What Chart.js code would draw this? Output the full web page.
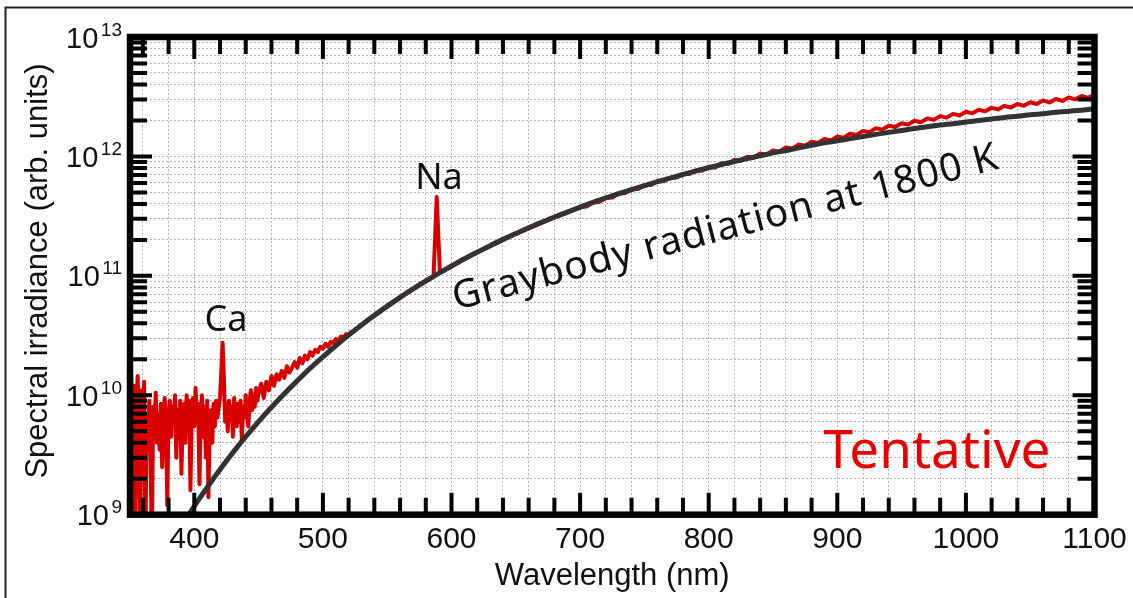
<!DOCTYPE html>
<html><head><meta charset="utf-8">
<script src="https://cdn.jsdelivr.net/npm/chart.js@4.4.1/dist/chart.umd.min.js"></script>
<style>html,body{margin:0;padding:0;background:#fff;overflow:hidden}#wrap{width:1133px;height:598px;position:relative}canvas{display:block}</style>
</head><body><div id="wrap"><canvas id="c" width="1133" height="598"></canvas></div>
<script>
// ---- data ----
const graybodyWavelength = [390,400,410,420,430,440,450,460,470,480,490,500,510,520,530,540,550,560,570,580,590,600,610,620,630,640,650,660,670,680,690,700,710,720,730,740,750,760,770,780,790,800,810,820,830,840,850,860,870,880,890,900,910,920,930,940,950,960,970,980,990,1000,1010,1020,1030,1040,1050,1060,1070,1080,1090,1100];
const graybodyIrradiance = [8.00e8,1.18e9,1.69e9,2.39e9,3.31e9,4.50e9,6.02e9,7.93e9,1.03e10,1.32e10,1.68e10,2.10e10,2.60e10,3.19e10,3.88e10,4.67e10,5.58e10,6.61e10,7.77e10,9.07e10,1.05e11,1.21e11,1.39e11,1.58e11,1.79e11,2.02e11,2.26e11,2.53e11,2.81e11,3.11e11,3.42e11,3.76e11,4.12e11,4.49e11,4.88e11,5.28e11,5.70e11,6.14e11,6.59e11,7.06e11,7.55e11,8.04e11,8.55e11,9.07e11,9.60e11,1.01e12,1.07e12,1.12e12,1.18e12,1.24e12,1.30e12,1.35e12,1.41e12,1.47e12,1.53e12,1.59e12,1.65e12,1.71e12,1.77e12,1.83e12,1.88e12,1.94e12,2.00e12,2.06e12,2.12e12,2.17e12,2.23e12,2.28e12,2.34e12,2.39e12,2.44e12,2.50e12];

const measuredWavelength = [350,351,352,353,354,355,356,357,358,359,360,361,362,363,364,365,366,367,368,369,370,371,372,373,374,375,376,377,378,379,380,381,382,383,384,385,386,387,388,389,390,391,392,393,394,395,396,397,398,399,400,401,402,403,404,405,406,407,408,409,410,411,412,413,414,415,416,417,418,419,420,421,422,423,424,425,426,427,428,429,430,431,432,433,434,435,436,437,438,439,440,441,442,443,444,445,446,447,448,449,450,
452,454,456,458,460,462,464,466,468,470,472,474,476,478,480,482,484,486,488,490,492,494,496,498,500,502,504,506,508,510,512,514,516,518,520,522,524,526,528,530,
540,550,560,570,580,586,588.5,591,596,600,610,620,630,640,650,660,670,680,690,
700,705,710,715,720,725,730,735,740,745,750,755,760,765,770,775,780,785,790,795,800,805,810,815,820,825,830,835,840,845,850,855,860,865,870,875,880,885,890,895,900,905,910,915,920,925,930,935,940,945,950,955,960,965,970,975,980,985,990,995,1000,1005,1010,1015,1020,1025,1030,1035,1040,1045,1050,1055,1060,1065,1070,1075,1080,1085,1090,1095,1100];
const measuredIrradiance = [6e9,1.4e10,2e9,1.2e10,5e8,9e9,1.45e10,3e9,8e8,1.1e10,6e9,1.3e10,5e8,7e9,4e9,9e9,3e9,5e8,8e9,5e9,1.05e10,4e9,7e9,3.5e9,8.5e9,2.5e9,6e9,9.5e9,5e9,1.2e9,7e9,9e9,4.5e9,8e9,6e9,1e10,3e9,7.5e9,5.5e9,9e9,2.2e9,6.5e9,8.5e9,4e9,1e10,6e9,9e9,1.6e9,7e9,9.5e9,5.5e9,1.15e10,6.5e9,8.5e9,1.8e9,7.5e9,1e10,4.5e9,8e9,3e9,9e9,1.4e9,6e9,7.5e9,4e9,8.5e9,5.5e9,9e9,6.5e9,8e9,9.5e9,1.6e10,2.75e10,1.4e10,6e9,8.5e9,5e9,9e9,6.5e9,8e9,4.5e9,9.5e9,7e9,5.5e9,8.5e9,6e9,9e9,4.2e9,8e9,6.5e9,1e10,7e9,5.5e9,9e9,1.1e10,7.5e9,1e10,8e9,1.15e10,9e9,1.05e10,
1.25e10,9.5e9,1.3e10,1.1e10,1.45e10,1.2e10,1.5e10,1.35e10,1.6e10,1.4e10,1.75e10,1.55e10,1.7e10,1.9e10,1.7e10,2.05e10,1.85e10,2.15e10,2.0e10,2.3e10,2.15e10,2.4e10,2.3e10,2.55e10,2.45e10,2.7e10,2.55e10,2.8e10,2.75e10,2.95e10,2.85e10,3.1e10,3.05e10,3.25e10,3.2e10,3.4e10,3.45e10,3.6e10,3.7e10,3.85e10,
4.62e10,5.51e10,6.53e10,7.69e10,8.97e10,9.77e10,4.57e11,1.07e11,1.135e11,1.199e11,1.374e11,1.567e11,1.774e11,2.00e11,2.239e11,2.50e11,2.78e11,3.076e11,3.388e11,
3.75e11,3.81e11,4.11e11,4.16e11,4.49e11,4.53e11,4.88e11,4.93e11,5.30e11,5.33e11,5.73e11,5.76e11,6.18e11,6.20e11,6.64e11,6.66e11,7.12e11,7.13e11,7.62e11,7.62e11,8.21e11,8.07e11,8.78e11,8.62e11,9.36e11,9.18e11,9.96e11,9.76e11,1.058e12,1.035e12,1.121e12,1.097e12,1.188e12,1.162e12,1.257e12,1.227e12,1.326e12,1.294e12,1.398e12,1.363e12,1.471e12,1.436e12,1.553e12,1.515e12,1.636e12,1.595e12,1.721e12,1.677e12,1.809e12,1.761e12,1.897e12,1.847e12,1.988e12,1.934e12,2.081e12,2.023e12,2.176e12,2.113e12,2.271e12,2.205e12,2.369e12,2.296e12,2.462e12,2.385e12,2.556e12,2.475e12,2.651e12,2.565e12,2.747e12,2.657e12,2.844e12,2.746e12,2.934e12,2.832e12,3.025e12,2.918e12,3.115e12,3.005e12,3.206e12,3.091e12,3.297e12];

const xTickLabels = [400,500,600,700,800,900,1000,1100];
const xMinorStep = 20;
const yDecades = [1e9,1e10,1e11,1e12,1e13];
const yDecadeExponents = ['9','10','11','12','13'];
const yMinorMultipliers = [2,3,4,5,6,7,8,9];

const xTitle = 'Wavelength (nm)';
const yTitle = 'Spectral irradiance (arb. units)';
const caLabel = 'Ca';
const naLabel = 'Na';
const graybodyLabel = 'Graybody radiation at 1800 K';
const stampLabel = 'Tentative';

// ---- derived tick tables ----
const xGridValues = [];
for (let v = 360; v < 1100; v += xMinorStep) xGridValues.push(v);
const yGridValues = [];
for (let i = 0; i < yDecades.length - 1; i++) {
  yGridValues.push(yDecades[i]);
  yMinorMultipliers.forEach(m => yGridValues.push(m * yDecades[i]));
}
yGridValues.push(yDecades[yDecades.length - 1]);

const FONT = '"Liberation Sans", Arial, Helvetica, sans-serif';
const AFONT = '"Noto Sans", "Liberation Sans", Arial, sans-serif';

const decor = {
  id: 'decor',
  beforeDraw(chart) {
    const c = chart.ctx; c.save(); c.fillStyle = '#fff'; c.fillRect(0, 0, chart.width, chart.height); c.restore();
  },
  afterDatasetsDraw(chart) {
    const ctx = chart.ctx;
    ctx.save();
    ctx.fillStyle = '#111';
    ctx.textBaseline = 'alphabetic';
    ctx.textAlign = 'center';
    ctx.font = '36px ' + AFONT;
    ctx.fillText(caLabel, 226, 331);
    ctx.fillText(naLabel, 439, 189);
    // graybody label, rotated
    ctx.save();
    ctx.translate(456, 310);
    ctx.rotate(-14.6 * Math.PI / 180);
    ctx.font = '39px ' + AFONT;
    ctx.textAlign = 'left';
    const w0 = ctx.measureText(graybodyLabel).width;
    const target = 562;
    if ('letterSpacing' in ctx) ctx.letterSpacing = ((target - w0) / (graybodyLabel.length - 1)).toFixed(2) + 'px';
    ctx.fillText(graybodyLabel, 0, 0);
    ctx.restore();
    // stamp
    ctx.fillStyle = '#e60000';
    ctx.font = '53px ' + AFONT;
    ctx.textAlign = 'center';
    ctx.fillText(stampLabel, 937, 468);
    ctx.restore();
  },
  afterDraw(chart) {
    const ctx = chart.ctx, xs = chart.scales.x, ys = chart.scales.y, a = chart.chartArea;
    ctx.save();
    ctx.strokeStyle = '#000';
    ctx.lineWidth = 4;
    ctx.lineCap = 'butt';
    ctx.beginPath();
    xGridValues.forEach(v => {
      const px = xs.getPixelForValue(v);
      const len = (v % 100 === 0) ? 22 : 17;
      ctx.moveTo(px, a.bottom); ctx.lineTo(px, a.bottom - len);
      ctx.moveTo(px, a.top); ctx.lineTo(px, a.top + len);
    });
    yGridValues.forEach(v => {
      if (v <= yDecades[0] || v >= yDecades[yDecades.length - 1]) return;
      const py = ys.getPixelForValue(v);
      const major = yDecades.includes(v);
      const len = major ? 22 : 17;
      ctx.moveTo(a.left, py); ctx.lineTo(a.left + len, py);
      ctx.moveTo(a.right, py); ctx.lineTo(a.right - len, py);
    });
    ctx.stroke();
    // frame
    ctx.lineWidth = 6.5;
    ctx.strokeRect(a.left, a.top, a.right - a.left, a.bottom - a.top);
    // outer frame
    ctx.lineWidth = 2;
    ctx.strokeStyle = '#222';
    ctx.beginPath();
    ctx.moveTo(5.5, chart.height + 5); ctx.lineTo(5.5, 7.5); ctx.lineTo(chart.width + 5, 7.5);
    ctx.stroke();
    // x tick labels
    ctx.fillStyle = '#111';
    ctx.font = '30px ' + FONT;
    ctx.textAlign = 'center';
    ctx.textBaseline = 'alphabetic';
    xTickLabels.forEach(v => ctx.fillText(String(v), xs.getPixelForValue(v), 548));
    // y tick labels with superscript exponent
    yDecades.forEach((v, i) => {
      const py = ys.getPixelForValue(v);
      const e = yDecadeExponents[i];
      ctx.textAlign = 'right';
      ctx.font = '19px ' + FONT;
      const ew = ctx.measureText(e).width;
      ctx.fillText(e, 122, py - 1.5);
      ctx.font = '29px ' + FONT;
      ctx.fillText('10', 122 - ew - 2.5, py + 10.5);
    });
    // axis titles
    ctx.textAlign = 'center';
    ctx.font = '31px ' + FONT;
    ctx.fillText(xTitle, (a.left + a.right) / 2, 585);
    ctx.save();
    ctx.translate(47, 271);
    ctx.rotate(-Math.PI / 2);
    ctx.fillText(yTitle, 0, 0);
    ctx.restore();
    ctx.restore();
  }
};

const gridOpts = { color: '#b4b4b4', lineWidth: 1, drawTicks: false };
const borderOpts = { display: false, dash: [2, 2] };

new Chart(document.getElementById('c'), {
  type: 'line',
  data: {
    datasets: [
      {
        label: graybodyLabel,
        data: graybodyWavelength.map((x, i) => ({ x, y: graybodyIrradiance[i] })),
        borderColor: '#333333',
        borderWidth: 5,
        pointRadius: 0,
        cubicInterpolationMode: 'monotone',
        order: 0
      },
      {
        label: 'Measured spectrum',
        data: measuredWavelength.map((x, i) => ({ x, y: measuredIrradiance[i] })),
        borderColor: '#d90000',
        borderWidth: 4,
        borderJoinStyle: 'round',
        pointRadius: 0,
        tension: 0,
        order: 1
      }
    ]
  },
  options: {
    responsive: false,
    animation: false,
    devicePixelRatio: 1,
    layout: { padding: { left: 0, top: 37, right: 38.5, bottom: 0 } },
    plugins: { legend: { display: false }, tooltip: { enabled: false } },
    scales: {
      x: {
        type: 'linear', min: 350, max: 1100,
        afterBuildTicks: s => { s.ticks = xGridValues.map(v => ({ value: v })); },
        afterFit: s => { s.height = 83.3; },
        ticks: { display: false },
        grid: gridOpts,
        border: borderOpts
      },
      y: {
        type: 'logarithmic', min: 1e9, max: 1e13,
        afterBuildTicks: s => { s.ticks = yGridValues.map(v => ({ value: v })); },
        afterFit: s => { s.width = 130; },
        ticks: { display: false },
        grid: gridOpts,
        border: borderOpts
      }
    }
  },
  plugins: [decor]
});
</script>
</body></html>
